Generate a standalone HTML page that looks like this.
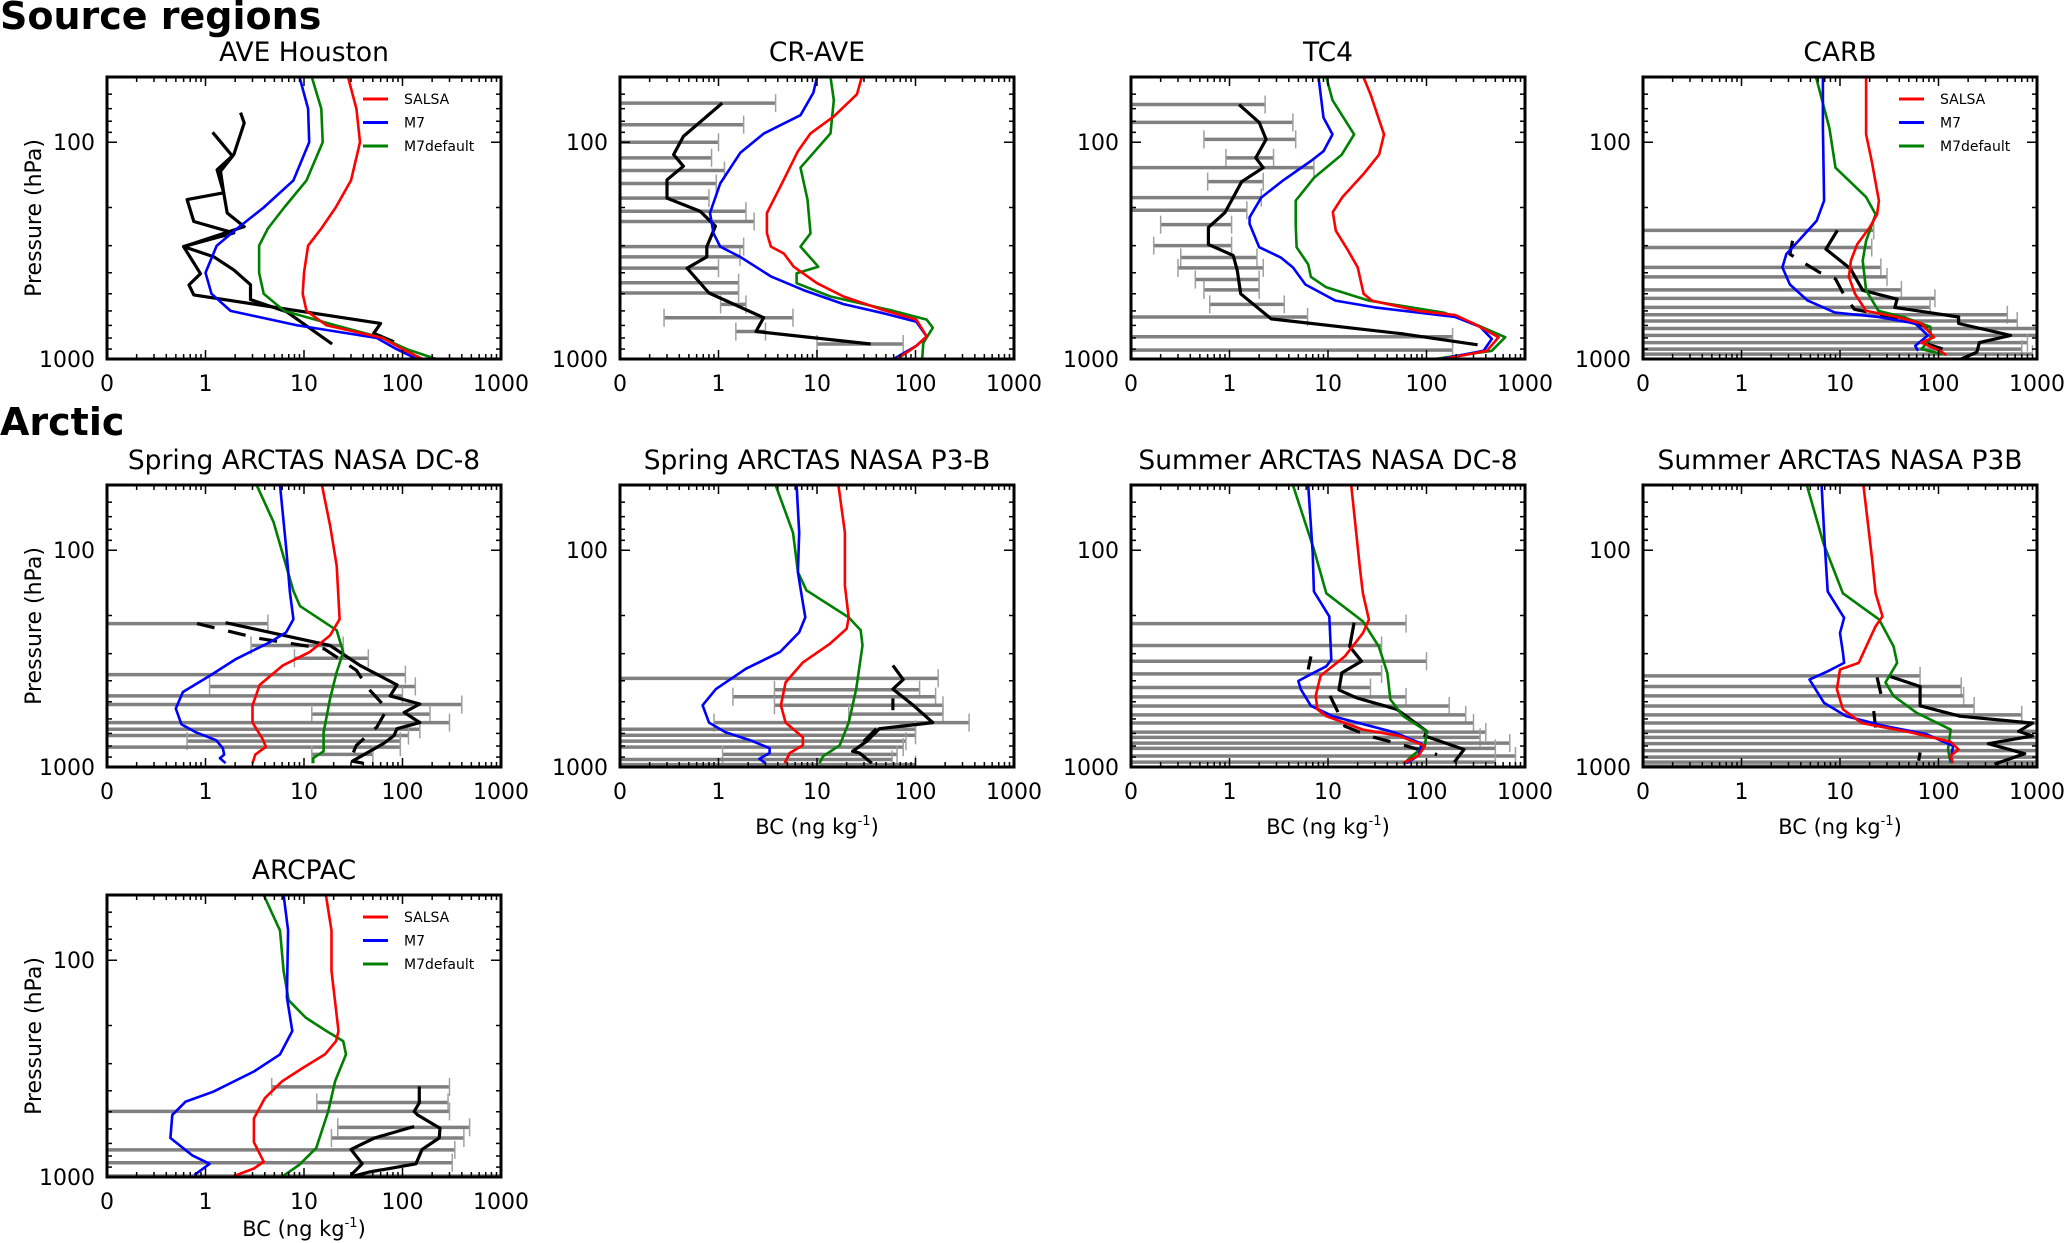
<!DOCTYPE html>
<html><head><meta charset="utf-8"><style>
html,body{margin:0;padding:0;background:#fff}
svg{display:block;font-family:"DejaVu Sans","Liberation Sans",sans-serif}
</style></head><body>
<svg id="fig" width="2067" height="1243" viewBox="0 0 2067 1243" xmlns="http://www.w3.org/2000/svg">
<text x="0" y="29" font-size="38" font-weight="bold">Source regions</text>
<text x="0" y="435" font-size="38" font-weight="bold">Arctic</text>
</svg>
<script>
// ---------- data (pressure hPa, BC ng/kg) ----------
const aveSalsa=[[50,28],[70,34],[100,37],[150,30],[200,21],[250,15],[300,11],[400,10],[500,9.7],[600,10.6],[700,17],[800,63],[900,100],[1000,160]];
const aveM7=[[50,9],[70,11],[100,11.3],[150,7.8],[200,3.9],[250,2.1],[300,1.3],[400,1.0],[500,1.15],[600,1.8],[700,8.6],[800,55],[900,87],[1000,140]];
const aveM7d=[[50,12],[70,15],[100,15.5],[150,10.6],[200,6.3],[250,4.3],[300,3.5],[400,3.5],[500,3.9],[600,6.3],[700,21],[800,63],[900,110],[1000,220]];
const aveObsA=[[73,2.27],[81.5,2.47],[114,1.94],[134,1.31],[171,1.53],[184,0.65],[232,0.76],[262,1.94],[303,0.6],[404,0.89],[455,0.68],[506,0.76],[685,60],[761,51],[833,82]];
const aveObsB=[[90,1.18],[98,1.38],[116,1.88],[136,1.42],[171,1.53],[212,1.66],[245,2.47],[303,0.6],[338,1.22],[388,1.94],[454,2.86],[532,2.86],[606,6.7],[853,19.3]];

const crSalsa=[[50,28.5],[60,25.5],[76,14.8],[91,8.6],[110,6.4],[152,4.5],[212,3.1],[263,3.1],[303,3.4],[326,4.6],[375,5.8],[447,10],[515,18.6],[594,47],[658,102],[787,130],[870,102],[1000,65]];
const crM7=[[50,10],[59,9.2],[75,6.8],[91,2.9],[112,1.66],[155,1.04],[212,0.82],[263,0.89],[303,1.04],[338,1.66],[416,3.4],[481,7.3],[558,18.6],[615,47],[673,102],[787,130],[870,102],[1000,60]];
const crM7d=[[50,13.7],[64,14.8],[91,13.7],[131,6.8],[184,8],[263,8.6],[303,6.8],[375,10.3],[402,6.2],[447,6.2],[515,13.7],[594,55],[658,130],[718,150],[843,120],[1000,117]];
const crObs=[[66,1.09],[94,0.44],[114,0.35],[129,0.44],[149,0.3],[181,0.3],[208,0.65],[244,0.93],[303,0.76],[338,0.76],[381,0.48],[496,0.8],[645,2.87],[747,2.4],[853,35]];
const crBarP=[66,83,100,118,135,155,181,208,232,303,338,381,445,496,560,645,747,853];
const crBarLo=[0.1,0.1,0.1,0.1,0.1,0.1,0.1,0.1,0.1,0.1,0.1,0.1,0.1,0.1,1.05,0.28,1.5,10];
const crBarHi=[3.8,1.8,1.0,0.85,1.15,0.95,0.8,1.9,2.3,1.8,1.65,1.0,1.6,1.6,1.9,5.7,3.0,75];

const tcSalsa=[[50,22.9],[60,27],[92,37],[114,33],[140,23],[179,14],[210,11.2],[256,12],[316,16],[378,20],[500,23],[538,28],[600,83],[627,196],[686,300],[793,540],[917,410],[1000,150]];
const tcM7=[[50,8],[77,9],[92,11.1],[110,9],[122,6.7],[150,3.5],[180,2.1],[222,1.6],[238,1.6],[305,2.0],[340,3.3],[378,4.4],[453,5.9],[538,11.9],[578,30],[640,196],[710,350],[808,460],[917,380],[1000,140]];
const tcM7d=[[50,9.6],[64,11.1],[92,18.4],[114,13.8],[146,7.2],[186,4.7],[238,4.7],[305,4.8],[366,6.3],[418,6.7],[467,9.6],[538,26],[611,150],[686,300],[793,630],[917,460],[1000,120]];
const tcObs=[[67,1.25],[81,2.0],[97,2.35],[118,1.85],[131,2.2],[152,1.33],[211,0.9],[247,0.61],[296,0.61],[333,1.09],[391,1.2],[500,1.3],[653,2.65],[766,58],[860,330]];
const tcBarP=[67,81,97,118,131,152,180,206,240,300,340,380,430,480,560,640,790,910];
const tcBarLo=[0.1,0.1,0.55,0.92,0.1,0.6,0.1,0.1,0.2,0.17,0.32,0.3,0.45,0.55,0.63,0.1,0.1,0.1];
const tcBarHi=[2.3,4.4,4.7,2.8,7.2,2.2,2.1,1.5,1.05,1.05,1.9,2.2,2.0,2.0,3.6,6.2,184,184];

const carbSalsa=[[50,18.4],[92,18.4],[122,21],[186,24.8],[215,23.8],[247,20],[296,14.9],[352,12.9],[418,12.3],[500,14.2],[600,18.4],[640,38],[686,67],[793,90],[840,67],[917,104],[960,120]];
const carbM7=[[50,6.7],[86,6.7],[186,6.9],[230,5.8],[285,3.8],[328,2.85],[378,2.6],[453,3.1],[538,4.7],[611,8.9],[640,24.6],[686,58],[778,78],[870,58],[917,62]];
const carbM7d=[[50,5.7],[86,7.8],[131,9.0],[179,18.4],[215,23],[285,18.4],[352,17],[482,18.4],[600,24.6],[640,44],[710,83],[808,83],[900,67],[950,110]];
const carbObs=[[255,9.4],[311,7.2],[384,12.8],[482,17],[530,38],[578,36],[640,160],[686,160],[778,540],[840,260],[930,245],[1000,170]];
const carbObsDash=[[285,3.3],[328,3.1],[356,4.1],[400,6.3],[427,9],[508,11],[590,14],[620,24.6],[640,32],[710,78],[855,78],[917,127]];
const carbBarP=[255,306,378,418,480,525,578,625,668,723,778,840,900,950];
const carbBarLo=[0.1,0.1,0.1,0.1,0.1,0.1,0.1,0.1,0.1,0.1,0.1,0.1,0.1,0.1];
const carbBarHi=[22,21,26,30,42,92,82,500,630,1000,1000,800,700,900];

const sdSalsa=[[50,15.2],[77,18.4],[118,21.5],[208,23],[247,18.4],[295,11.4],[340,6.1],[418,3.55],[520,3.0],[624,3.0],[743,3.8],[807,4.1],[877,3.2],[960,3.0]];
const sdM7=[[50,5.7],[98,6.6],[156,7.2],[208,7.8],[239,6.6],[266,4.5],[317,2.05],[380,1.1],[451,0.59],[538,0.5],[636,0.57],[692,0.8],[752,1.28],[819,1.5],[877,1.55],[910,1.4],[960,1.6]];
const sdM7d=[[50,3.3],[74,4.9],[154,7.8],[181,9.1],[234,21.5],[295,25],[365,21.5],[483,18.4],[692,15.8],[846,15.8],[910,12.4],[960,12.4]];
const sdObs=[[216,1.6],[275,18.4],[340,37],[418,88],[470,75],[512,150],[560,104],[624,150],[666,88],[716,82],[780,64],[940,31],[960,40]];
const sdObsDash=[[218,0.82],[254,3.3],[285,16],[358,34],[435,45],[540,70],[654,55],[794,34],[943,29]];
const sdBarP=[218,275,315,375,425,470,515,570,624,670,716,760,810,875];
const sdBarLo=[0.1,2.9,8,0.1,1.1,0.1,0.1,12,0.1,0.1,0.1,0.65,0.1,12];
const sdBarHi=[4.3,25,45,107,135,100,400,190,300,150,115,95,95,50];

const spSalsa=[[50,16.5],[83,19.2],[146,19.2],[204,21],[230,20],[271,13.4],[329,7.2],[407,4.8],[519,4.3],[624,4.8],[729,7.2],[794,7.2],[862,5.3],[960,4.7]];
const spM7=[[50,6.2],[83,6.6],[126,6.4],[156,6.9],[204,7.6],[239,6.6],[295,4.2],[352,1.9],[437,0.94],[519,0.69],[624,0.8],[692,1.18],[752,2.1],[819,3.3],[862,3.3],[917,2.6],[960,3.0]];
const spM7d=[[50,3.8],[83,5.7],[126,6.4],[153,7.8],[204,21],[234,27.8],[275,29],[437,25],[624,21],[794,17],[893,11.5],[960,10.6]];
const spObs=[[340,59],[395,75],[437,59],[519,95],[624,150],[666,43],[760,32],[846,23],[862,27],[960,36]];
const spObsDash=[[483,59],[547,59]];
const spObsDash2=[[666,40],[737,32],[819,25]];
const spBarP=[390,440,474,519,570,624,670,714,760,810,875,924,975];
const spBarLo=[0.1,3.7,1.4,3.7,21,0.9,0.1,0.1,0.1,0.1,1.1,0.1,0.1];
const spBarHi=[170,110,160,190,190,350,100,100,80,75,65,58,100];

const smdSalsa=[[50,17.2],[123,21.2],[158,22.6],[209,26],[241,22.6],[309,14.8],[380,8.4],[470,7.5],[542,7.8],[583,9.6],[672,22.6],[719,53],[799,96],[887,83],[960,58]];
const smdM7=[[50,6.3],[103,7.0],[155,7.2],[202,10.3],[320,10.8],[343,9.6],[373,6.7],[401,5.0],[438,5.3],[522,6.7],[583,11.2],[692,47],[781,89],[887,83],[960,62]];
const smdM7d=[[50,4.4],[99,7.2],[158,9.6],[213,22.6],[278,32.8],[368,40],[488,43],[583,58],[685,101],[799,96],[887,72],[970,58]];
const smdObs=[[216,18.4],[278,16.6],[325,21.9],[368,13.8],[441,12.9],[480,19.6],[542,50],[685,101],[719,96],[830,240],[951,191]];
const smdObsDash=[[309,6.7],[355,6.3]];
const smdObsDash2=[[470,10.5],[648,14.8],[719,26],[799,62],[877,128]];
const smdBarP=[218,275,325,372,430,475,523,575,627,690,730,776,820,890,950];
const smdBarLo=[0.1,0.1,0.1,0.1,0.1,0.1,0.1,0.1,0.1,0.1,0.1,0.1,0.1,0.1,0.1];
const smdBarHi=[62,35,100,35,27,62,170,250,300,400,350,700,500,800,500];

const smpSalsa=[[50,17.3],[110,21.2],[158,23],[202,27],[224,23],[288,17.8],[331,15.5],[355,10],[438,9.3],[542,10.7],[627,16.6],[692,52],[765,133],[830,160],[887,133],[960,140]];
const smpM7=[[50,6.5],[93,7],[155,7.5],[205,11],[241,10],[296,10.7],[331,11],[362,7.5],[395,4.9],[506,6.9],[583,11.6],[648,29],[705,75],[799,141],[917,133],[960,140]];
const smpM7d=[[50,4.6],[93,6.8],[158,10.7],[209,25],[278,35],[331,38],[407,29],[470,35],[562,60],[672,133],[830,125],[960,133]];
const smpObs=[[380,31],[425,65],[522,65],[583,165],[627,900],[685,650],[719,900],[781,320],[868,750],[970,370]];
const smpObsDash=[[386,23.8],[460,26]];
const smpObsDash2=[[552,22],[657,23]];
const smpObsDash3=[[857,65],[934,63]];
const smpBarP=[380,425,470,523,575,627,685,730,780,840,900,950,990];
const smpBarLo=[0.1,0.1,0.1,0.1,0.1,0.1,0.1,0.1,0.1,0.1,0.1,0.1,0.1];
const smpBarHi=[65,170,180,230,700,1000,1000,1000,1000,1000,1000,1000,1000];

const arcSalsa=[[50,16.7],[73,19],[112,19],[212,22.4],[236,21.2],[272,16.3],[314,9.7],[362,6.0],[433,4.0],[537,3.1],[691,3.1],[851,3.9],[914,3.1],[990,1.94]];
const arcM7=[[50,6.2],[73,6.9],[148,6.7],[212,7.6],[272,5.7],[326,3.1],[404,1.2],[449,0.63],[517,0.46],[661,0.44],[797,0.74],[869,1.1],[980,0.77]];
const arcM7d=[[50,3.9],[73,5.7],[112,6.2],[153,7.0],[184,10.4],[212,16.9],[236,25],[272,26.7],[362,20.7],[498,17.6],[736,13.3],[881,8.9],[990,6.1]];
const arcObs=[[382,148],[455,148],[498,131],[517,142],[596,240],[661,236],[746,158],[869,137],[948,46],[990,32]];
const arcObs2=[[585,131],[661,52],[746,30],[869,39],[980,30]];
const arcBarP=[384,453,498,590,661,750,860,990];
const arcBarLo=[4.7,13.5,0.1,22,19,0.1,0.1,0.1];
const arcBarHi=[300,290,300,480,420,340,320,1000];

const xTickLabels=["0","1","10","100","1000"];
const xTickValues=[0.1,1,10,100,1000];
const yTickLabels=["100","1000"];
const yTickValues=[100,1000];

// ---------- layout ----------
const COL_X=[107,620,1131,1643];
const ROW_Y=[77,485,895];
const W=394,H=282;
const panels=[
 {id:"ave-houston",title:"AVE Houston",c:0,r:0,yl:true,xl:false,leg:true,s:aveSalsa,m:aveM7,d:aveM7d,obs:[aveObsA,aveObsB],dash:[],bp:[],blo:[],bhi:[]},
 {id:"cr-ave",title:"CR-AVE",c:1,r:0,yl:false,xl:false,leg:false,s:crSalsa,m:crM7,d:crM7d,obs:[crObs],dash:[],bp:crBarP,blo:crBarLo,bhi:crBarHi},
 {id:"tc4",title:"TC4",c:2,r:0,yl:false,xl:false,leg:false,s:tcSalsa,m:tcM7,d:tcM7d,obs:[tcObs],dash:[],bp:tcBarP,blo:tcBarLo,bhi:tcBarHi},
 {id:"carb",title:"CARB",c:3,r:0,yl:false,xl:false,leg:true,s:carbSalsa,m:carbM7,d:carbM7d,obs:[carbObs],dash:[carbObsDash],bp:carbBarP,blo:carbBarLo,bhi:carbBarHi},
 {id:"spring-dc8",title:"Spring ARCTAS NASA DC-8",c:0,r:1,yl:true,xl:false,leg:false,s:sdSalsa,m:sdM7,d:sdM7d,obs:[sdObs],dash:[sdObsDash],bp:sdBarP,blo:sdBarLo,bhi:sdBarHi},
 {id:"spring-p3b",title:"Spring ARCTAS NASA P3-B",c:1,r:1,yl:false,xl:true,leg:false,s:spSalsa,m:spM7,d:spM7d,obs:[spObs],dash:[spObsDash,spObsDash2],bp:spBarP,blo:spBarLo,bhi:spBarHi},
 {id:"summer-dc8",title:"Summer ARCTAS NASA DC-8",c:2,r:1,yl:false,xl:true,leg:false,s:smdSalsa,m:smdM7,d:smdM7d,obs:[smdObs],dash:[smdObsDash,smdObsDash2],bp:smdBarP,blo:smdBarLo,bhi:smdBarHi},
 {id:"summer-p3b",title:"Summer ARCTAS NASA P3B",c:3,r:1,yl:false,xl:true,leg:false,s:smpSalsa,m:smpM7,d:smpM7d,obs:[smpObs],dash:[smpObsDash,smpObsDash2,smpObsDash3],bp:smpBarP,blo:smpBarLo,bhi:smpBarHi},
 {id:"arcpac",title:"ARCPAC",c:0,r:2,yl:true,xl:true,leg:true,s:arcSalsa,m:arcM7,d:arcM7d,obs:[arcObs,arcObs2],dash:[],bp:arcBarP,blo:arcBarLo,bhi:arcBarHi}
];

const NS="http://www.w3.org/2000/svg";
const svg=document.getElementById("fig");
function mk(tag,attrs,parent){const e=document.createElementNS(NS,tag);for(const k in attrs)e.setAttribute(k,attrs[k]);(parent||svg).appendChild(e);return e;}

panels.forEach(pn=>{
  const L=COL_X[pn.c],T=ROW_Y[pn.r];
  const xS=v=>L+W*(Math.log10(Math.max(v,0.1))+1)/4;
  const yS=p=>T+H*Math.log10(p/50)/Math.log10(20);
  const g=mk("g",{});
  
  
  const clipId="clip-"+pn.id;
  const cp=mk("clipPath",{id:clipId},g);mk("rect",{x:L,y:T,width:W,height:H},cp);
  const plot=mk("g",{"clip-path":"url(#"+clipId+")"},g);
  pn.bp.forEach((p,i)=>{
    const y=yS(p),x1=xS(pn.blo[i]),x2=xS(pn.bhi[i]);
    const b=mk("line",{x1:x1,y1:y,x2:x2,y2:y,stroke:"#808080","stroke-width":3.5},plot);
    
    
    mk("line",{x1:x2,y1:y-9,x2:x2,y2:y+9,stroke:"#a0a0a0","stroke-width":1.5},plot);
    if(pn.blo[i]>0.1)mk("line",{x1:x1,y1:y-9,x2:x1,y2:y+9,stroke:"#a0a0a0","stroke-width":1.5},plot);
  });
  const line=(data,color,w,name,dash)=>{
    const d=data.map((pt,i)=>(i?"L":"M")+xS(pt[1]).toFixed(1)+" "+yS(pt[0]).toFixed(1)).join(" ");
    const a={d:d,fill:"none",stroke:color,"stroke-width":w,"stroke-linejoin":"round"};
    if(dash)a["stroke-dasharray"]=dash;
    const e=mk("path",a,plot);
    
    
  };
  pn.obs.forEach(o=>line(o,"#000",3.2,"observation-line"));
  pn.dash.forEach(o=>line(o,"#000",3.2,"observation-dashed-line","18 14"));
  line(pn.d,"#008000",2.6,"m7default-line");
  line(pn.m,"#0000ff",2.6,"m7-line");
  line(pn.s,"#ff0000",2.6,"salsa-line");
  const fr=mk("rect",{x:L,y:T,width:W,height:H,fill:"none",stroke:"#000","stroke-width":3},g);
  
  
  for(let e=-1;e<3;e++)for(let k=1;k<10;k++){
    const v=k*Math.pow(10,e),x=xS(v),len=k===1?9:5;
    mk("line",{x1:x,y1:T,x2:x,y2:T+len,stroke:"#000","stroke-width":1.5},g);
    mk("line",{x1:x,y1:T+H,x2:x,y2:T+H-len,stroke:"#000","stroke-width":1.5},g);
  }
  xTickValues.forEach((v,i)=>{
    const t=mk("text",{x:xS(v),y:T+H+32,"font-size":22,"text-anchor":"middle"},g);
    t.textContent=xTickLabels[i];
    
    
  });
  [60,70,80,90,100,200,300,400,500,600,700,800,900].forEach(p=>{
    const y=yS(p),len=p===100?10:5;
    mk("line",{x1:L,y1:y,x2:L+len,y2:y,stroke:"#000","stroke-width":1.5},g);
    mk("line",{x1:L+W,y1:y,x2:L+W-len,y2:y,stroke:"#000","stroke-width":1.5},g);
  });
  yTickValues.forEach((p,i)=>{
    const t=mk("text",{x:L-12,y:yS(p)+8,"font-size":22,"text-anchor":"end"},g);
    t.textContent=yTickLabels[i];
    
    
  });
  const tt=mk("text",{x:L+W/2,y:T-16,"font-size":26.5,"text-anchor":"middle"},g);
  tt.textContent=pn.title;
  
  
  if(pn.yl){
    const yt=mk("text",{x:0,y:0,"font-size":22,"text-anchor":"middle",transform:"translate(41,"+(T+H/2)+") rotate(-90)"},g);
    yt.textContent="Pressure (hPa)";
    
    
  }
  if(pn.xl){
    const off=pn.r===2?59:67;
    const xt=mk("text",{x:L+W/2,y:T+H+off,"font-size":21,"text-anchor":"middle"},g);
    xt.innerHTML='BC (ng kg<tspan font-size="13" dy="-9">-1</tspan><tspan dy="9">)</tspan>';
    
    
  }
  if(pn.leg){
    [["SALSA","#ff0000"],["M7","#0000ff"],["M7default","#008000"]].forEach((it,i)=>{
      const y=T+22+i*23.5;
      const lg=mk("g",{},g);
      
      
      mk("line",{x1:L+256,y1:y,x2:L+281,y2:y,stroke:it[1],"stroke-width":3},lg);
      const t=mk("text",{x:L+297,y:y+5,"font-size":14},lg);
      t.textContent=it[0];
    });
  }
});
</script>
</body></html>
